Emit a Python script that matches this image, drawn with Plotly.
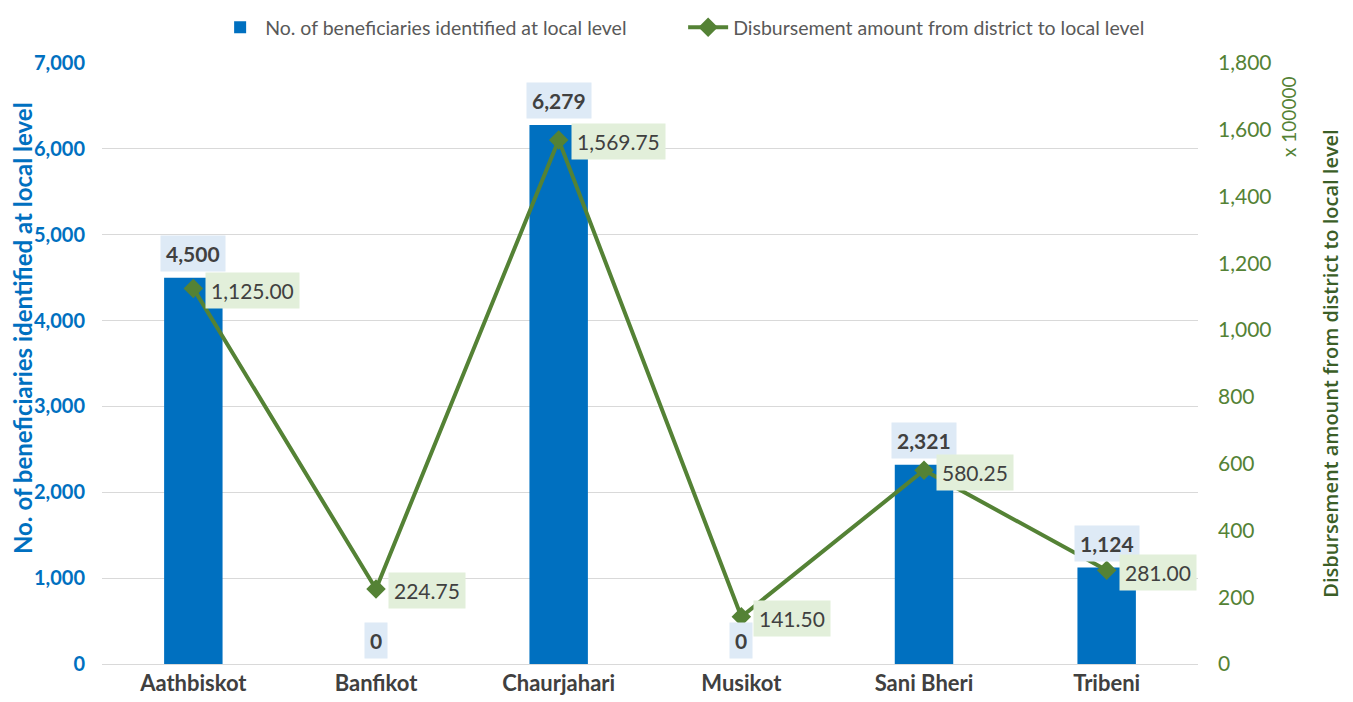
import plotly.graph_objects as go

categories = ["Aathbiskot", "Banfikot", "Chaurjahari", "Musikot", "Sani Bheri", "Tribeni"]
beneficiaries = [4500, 0, 6279, 0, 2321, 1124]
disbursement = [1125.00, 224.75, 1569.75, 141.50, 580.25, 281.00]
left_ticks = [0, 1000, 2000, 3000, 4000, 5000, 6000, 7000]
right_ticks = [0, 200, 400, 600, 800, 1000, 1200, 1400, 1600, 1800]

BLUE = "#0070C0"
GREEN = "#548235"
DKGREEN = "#3B5E27"
GRAY = "#404040"
FONT = "Lato"

fig = go.Figure()
fig.add_trace(go.Bar(
    x=categories, y=beneficiaries, name="No. of beneficiaries identified at local level",
    marker=dict(color=BLUE, line=dict(width=0)), width=0.32, yaxis="y",
))
fig.add_trace(go.Scatter(
    x=categories, y=disbursement, name="Disbursement amount from district to local level",
    mode="lines+markers", line=dict(color=GREEN, width=4),
    marker=dict(symbol="diamond", size=15, color=GREEN), yaxis="y2",
))

for c, v in zip(categories, beneficiaries):
    fig.add_annotation(x=c, y=v, xref="x", yref="y", text=f"<b>{v:,}</b>", showarrow=False,
                       yshift=24, bgcolor="#DEEAF6", borderpad=5,
                       font=dict(family=FONT, size=21, color=GRAY))
for c, v in zip(categories, disbursement):
    fig.add_annotation(x=c, y=v, xref="x", yref="y2", text=f"{v:,.2f}", showarrow=False,
                       xanchor="left", xshift=12, yshift=-2, bgcolor="#E2EFDA", borderpad=5,
                       font=dict(family=FONT, size=21, color=GRAY))

# left axis title (placed as annotation to match reference vertical position)
fig.add_annotation(x=0, xref="paper", xshift=-80, xanchor="center", y=0.559, yref="paper", yanchor="middle",
                   text="<b>No. of beneficiaries identified at local level</b>", showarrow=False,
                   textangle=-90, font=dict(family=FONT, size=24, color=BLUE))
fig.add_annotation(x=1, xref="paper", xshift=90, xanchor="center", y=1, yref="paper", yanchor="top", yshift=-12,
                   text="x 100000", showarrow=False, textangle=-90,
                   font=dict(family=FONT, size=19, color=GREEN))

fig.update_layout(
    width=1345, height=694,
    margin=dict(l=94, r=155, t=55, b=38, autoexpand=False),
    paper_bgcolor="white", plot_bgcolor="white",
    font=dict(family=FONT),
    showlegend=True,
    legend=dict(orientation="h", x=0.154, xref="container", xanchor="left", y=1.0, yref="container", yanchor="top",
                font=dict(family=FONT, size=19.5, color="#595959"), itemwidth=40, entrywidth=413,
                bgcolor="rgba(0,0,0,0)"),
    xaxis=dict(showgrid=False, showline=True, linecolor="#D9D9D9", linewidth=1, automargin=False,
               tickfont=dict(family=FONT, size=22, color=GRAY, weight="bold"),
               ticks="", range=[-0.5, 5.5]),
    yaxis=dict(range=[0, 7000], tickvals=left_ticks, tickformat=",", showgrid=True, automargin=False,
               gridcolor="#D9D9D9", gridwidth=1, zeroline=False, showline=False,
               tickfont=dict(family=FONT, size=20, color=BLUE, weight="bold"),
               ticklabelstandoff=16),
    yaxis2=dict(range=[0, 1800], tickvals=right_ticks, tickformat=",", overlaying="y", side="right",
                showgrid=False, zeroline=False, showline=False, automargin=False,
                tickfont=dict(family=FONT, size=21, color=GREEN),
                ticklabelstandoff=19,
                title=dict(text="Disbursement amount from district to local level",
                           font=dict(family="Open Sans", size=20, color=DKGREEN, weight=600), standoff=53)),
)

fig.write_html("out.html")
